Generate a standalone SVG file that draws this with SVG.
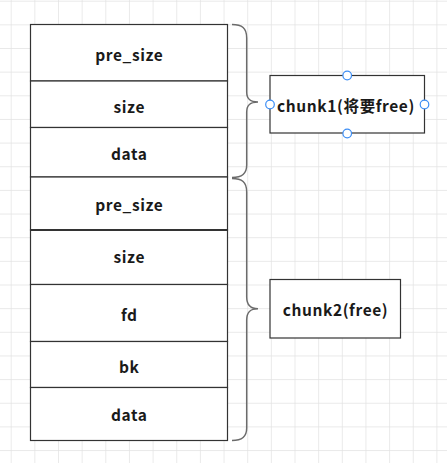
<svg xmlns="http://www.w3.org/2000/svg" width="447" height="463" viewBox="0 0 447 463">
<defs>
<pattern id="grid" x="10.7" y="0.7" width="23.65" height="23.65" patternUnits="userSpaceOnUse">
<path d="M0 0H23.65M0 0V23.65" fill="none" stroke="#e2e2e2" stroke-width="1.4"/>
</pattern>
</defs>
<style>
.cell{fill:#ffffff;stroke:#333333;stroke-width:1.2}
.lbl{font-family:"Noto Sans CJK SC","Noto Sans",sans-serif;font-weight:bold;font-size:15.5px;letter-spacing:0.6px;fill:#1a1a1a;text-anchor:middle}
.brace{fill:none;stroke:#6b6b6b;stroke-width:1.5}
.handle{fill:#ffffff;stroke:#3d8ef5;stroke-width:1.2}
</style>
<rect width="447" height="463" fill="#ffffff"/>
<rect width="447" height="463" fill="url(#grid)"/>
<g id="node-pre_size1"><rect class="cell" x="30.5" y="24.5" width="197" height="56.5"/><text class="lbl" x="129.3" y="61">pre_size</text></g>
<g id="node-size1"><rect class="cell" x="30.5" y="81" width="197" height="46.5"/><text class="lbl" x="129.3" y="113">size</text></g>
<g id="node-data1"><rect class="cell" x="30.5" y="127.5" width="197" height="49.5"/><text class="lbl" x="129.3" y="160">data</text></g>
<g id="node-pre_size2"><rect class="cell" x="30.5" y="177" width="197" height="53"/><text class="lbl" x="129.3" y="210.5">pre_size</text></g>
<g id="node-size2"><rect class="cell" x="30.5" y="230" width="197" height="54.5"/><line x1="30.5" y1="230" x2="227.5" y2="230" stroke="#333333" stroke-width="2.2"/><text class="lbl" x="129.3" y="263">size</text></g>
<g id="node-fd"><rect class="cell" x="30.5" y="284.5" width="197" height="57"/><text class="lbl" x="129.3" y="320.5">fd</text></g>
<g id="node-bk"><rect class="cell" x="30.5" y="341.5" width="197" height="46"/><text class="lbl" x="129.3" y="373">bk</text></g>
<g id="node-data2"><rect class="cell" x="30.5" y="387.5" width="197" height="53"/><text class="lbl" x="129.3" y="420.5">data</text></g>
<g id="connectors">
<path class="brace" d="M232 24.5 C242 24.5 246.7 28 246.7 38 V92 C246.7 99 250 102 258 102 C250 102 246.7 105 246.7 112 V165 C246.7 174 242 177.5 232 177.5"/>
<path class="brace" d="M232 178.5 C242 178.5 246.7 182 246.7 192 V297 C246.7 305 250 308.7 258 308.7 C250 308.7 246.7 312 246.7 320 V428 C246.7 437 242 440.5 232 440.5"/>
</g>
<g id="node-chunk1"><rect class="cell" x="270" y="75.5" width="154.5" height="57.5"/><text class="lbl" x="346" y="111.5">chunk1(将要free)</text>
<circle class="handle" cx="347.2" cy="75.5" r="4.3"/><circle class="handle" cx="347.2" cy="133.5" r="4.3"/><circle class="handle" cx="270" cy="104.5" r="4.3"/><circle class="handle" cx="424.5" cy="104.5" r="4.3"/></g>
<g id="node-chunk2"><rect class="cell" x="270" y="279.5" width="130.5" height="58.5"/><text class="lbl" x="335.5" y="316">chunk2(free)</text></g>
</svg>
